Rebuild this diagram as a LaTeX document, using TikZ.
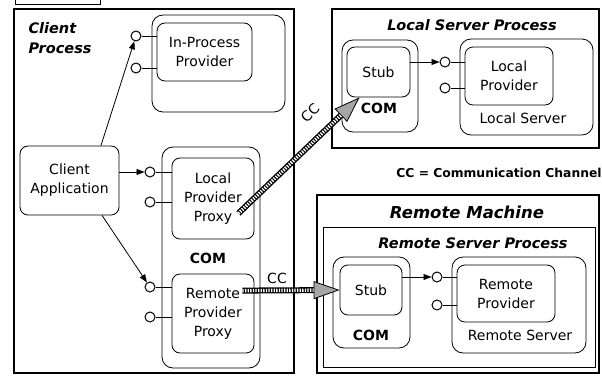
\documentclass[tikz,border=0pt]{standalone}
\usepackage{fontspec}
\setmainfont{DejaVu Sans}
\usetikzlibrary{arrows.meta,calc}
\begin{document}
\begin{tikzpicture}[x=1pt,y=-1pt,
  frame/.style={draw, line width=1.2pt, inner sep=0pt},
  rbox/.style={draw, line width=0.8pt, rounded corners=11pt, inner sep=0pt},
  ibox/.style={draw, line width=0.8pt, rounded corners=8pt, inner sep=0pt, align=center,
               font=\fontsize{14}{19}\selectfont},
  port/.style={draw, circle, line width=1pt, minimum size=10pt, inner sep=0pt},
  stick/.style={line width=0.8pt},
  call/.style={line width=0.8pt, -{Triangle[length=8pt,width=6pt]}},
  title/.style={font=\fontsize{14.5}{20}\selectfont\bfseries\itshape},
  lbl/.style={font=\fontsize{14}{18}\selectfont},
  comlbl/.style={font=\fontsize{14}{18}\selectfont\bfseries},
  channel/.style={line width=6pt, -{Triangle[length=26pt,width=18pt,line width=0.8pt,fill=gray!70]}},
  chanfill/.style={white, line width=3.4pt, dash pattern=on 1.3pt off 1.3pt, shorten >=26pt},
]
\useasboundingbox (0,0) rectangle (602,377);
\clip (0,0) rectangle (602,377);

% caption box cut by the top edge
\draw[line width=1pt] (15,-10) rectangle (100,5);

% ---------- client process ----------
\node[frame, minimum width=280pt, minimum height=364pt] (cproc) at (154,191) {};
\node[title, align=left, anchor=north west] (cproct) at (25,19) {Client\\Process};

\node[rbox, minimum width=133pt, minimum height=97pt] (inproc) at (218.5,63.5) {};
\node[ibox, minimum width=95pt, minimum height=58pt] (inprov) at (204.5,52) {In-Process\\Provider};
\node[port] (ip1) at (136,36) {};
\node[port] (ip2) at (136,68) {};
\draw[stick] (ip1.east) -- (ip1.east -| inprov.west);
\draw[stick] (ip2.east) -- (ip2.east -| inprov.west);

\node[ibox, minimum width=99pt, minimum height=69pt] (capp) at (69.5,180.5) {Client\\Application};

\node[rbox, minimum width=98pt, minimum height=221pt] (comc) at (211,257.5) {};
\node[comlbl] (comct) at (208,258) {COM};
\node[ibox, minimum width=82pt, minimum height=81pt] (lpp) at (213,198.5) {Local\\Provider\\Proxy};
\node[ibox, minimum width=82pt, minimum height=79pt] (rpp) at (213,313.5) {Remote\\Provider\\Proxy};
\node[port] (lp1) at (150,172) {};
\node[port] (lp2) at (150,202) {};
\node[port] (rp1) at (150,287) {};
\node[port] (rp2) at (150,317) {};
\foreach \p/\b in {lp1/lpp, lp2/lpp, rp1/rpp, rp2/rpp}
  \draw[stick] (\p.east) -- (\p.east -| \b.west);

\draw[call] (capp.48) -- (ip1);
\draw[call] (capp.east |- lp1) -- (lp1);
\draw[call] (capp.-47) -- (rp1);

% ---------- local server process ----------
\node[frame, minimum width=267pt, minimum height=139pt] (lsp) at (465.5,78.5) {};
\node[title] (lspt) at (472,25) {Local Server Process};
\node[rbox, minimum width=76pt, minimum height=92pt] (coml) at (380,86) {};
\node[ibox, minimum width=63pt, minimum height=50pt] (stub1) at (378.5,72) {Stub};
\node[comlbl] (comlt) at (379,108) {COM};
\node[rbox, minimum width=133pt, minimum height=96pt] (lsrv) at (526.5,87) {};
\node[ibox, minimum width=88pt, minimum height=58pt] (lprov) at (509,76) {Local\\Provider};
\node[lbl] (lsrvt) at (523,118) {Local Server};
\node[port] (lo1) at (445,62) {};
\node[port] (lo2) at (445,88) {};
\draw[stick] (lo1.east) -- (lo1.east -| lprov.west);
\draw[stick] (lo2.east) -- (lo2.east -| lprov.west);
\draw[call] (stub1.east |- lo1) -- (lo1);

\node[font=\fontsize{12.3}{15}\selectfont\bfseries] (legend) at (499,173) {CC = Communication Channel};

% ---------- remote machine ----------
\node[draw, line width=2.2pt, inner sep=0pt, minimum width=282pt, minimum height=178pt] (rmach) at (458,284) {};
\node[font=\fontsize{16.5}{20}\selectfont\bfseries\itshape] (rmacht) at (467,212) {Remote Machine};
\node[frame, line width=1pt, minimum width=272pt, minimum height=140pt] (rsp) at (459,297) {};
\node[title] (rspt) at (473,243) {Remote Server Process};
\node[rbox, minimum width=77pt, minimum height=91pt] (comr) at (371.5,302.5) {};
\node[ibox, minimum width=62pt, minimum height=50pt] (stub2) at (371,290) {Stub};
\node[comlbl] (comrt) at (371,335) {COM};
\node[rbox, minimum width=134pt, minimum height=96pt] (rsrv) at (519,305) {};
\node[ibox, minimum width=98pt, minimum height=57pt] (rprov) at (506,293.5) {Remote\\Provider};
\node[lbl] (rsrvt) at (520,335) {Remote Server};
\node[port] (ro1) at (437,277) {};
\node[port] (ro2) at (437,305) {};
\draw[stick] (ro1.east) -- (ro1.east -| rprov.west);
\draw[stick] (ro2.east) -- (ro2.east -| rprov.west);
\draw[call] (stub2.east |- ro1) -- (ro1);

% ---------- communication channels ----------
\coordinate (c1s) at ($(lpp.south east)+(-16,-26)$);
\coordinate (c1e) at ($(stub1.south west)+(13,0)$);
\draw[channel] (c1s) -- (c1e);
\draw[chanfill] (c1s) -- (c1e);
\node[lbl, rotate=44, inner sep=0pt] (cc1) at (310,113) {CC};

\coordinate (c2s) at ($(rpp.north east)+(-12,17)$);
\draw[channel] (c2s) -- (stub2.west);
\draw[chanfill] (c2s) -- (stub2.west);
\node[lbl] (cc2) at (277,278) {CC};
\end{tikzpicture}
\end{document}
